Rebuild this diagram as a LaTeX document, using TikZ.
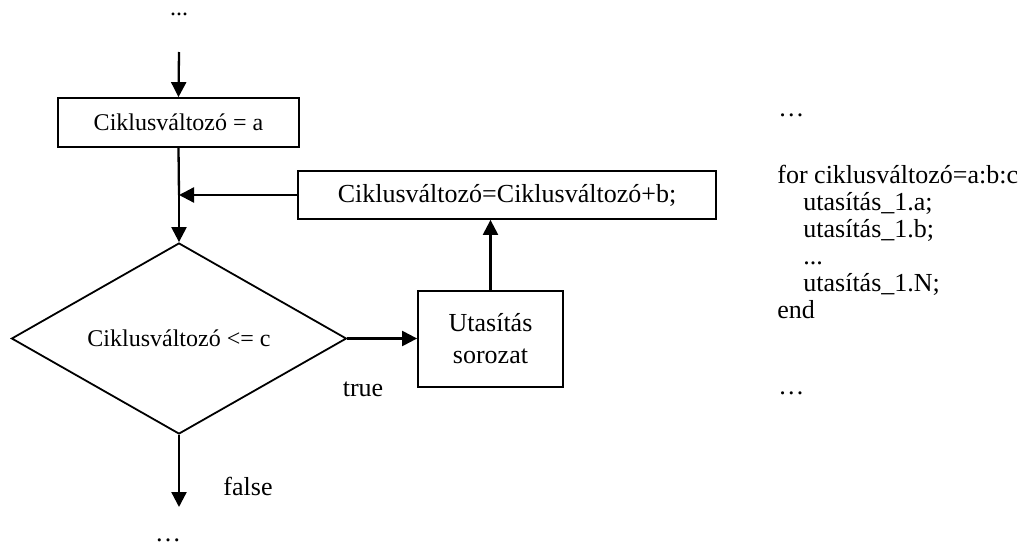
\documentclass[tikz,border=0pt]{standalone}
\usepackage{fontspec}
\setmainfont{Liberation Serif}
\usetikzlibrary{arrows.meta,shapes.geometric}
\begin{document}
\begin{tikzpicture}[x=0.5pt,y=-0.5pt,
  box/.style={draw,line width=0.9pt,inner sep=0pt},
  arr/.style={line width=1.15pt,-{Triangle[length=7.5pt,width=7.5pt]}},
  big/.style={font=\fontsize{13}{15}\selectfont,inner sep=0pt},
  small/.style={font=\fontsize{12}{14}\selectfont,inner sep=0pt},
  code/.style={big,anchor=base west}]
\useasboundingbox (0,0) rectangle (1023,546);
% flowchart
\node[small,anchor=base] (topdots) at (179,16) {...};
\coordinate (start) at (179,52);
\node[box,small,minimum width=120.5pt,minimum height=24.5pt] (init) at (178.5,122.5) {Ciklusváltozó = a};
\node[box,big,minimum width=209pt,minimum height=24pt] (upd) at (507,195) {Ciklusváltozó=Ciklusváltozó+b;};
\coordinate (join) at (179,195);
\node[draw,diamond,line width=0.9pt,inner sep=0pt,aspect=1.754,minimum width=167.5pt,minimum height=95.5pt,small] (cond) at (179,338.5) {Ciklusváltozó <= c};
\node[box,big,align=center,minimum width=72.5pt,minimum height=48pt] (body) at (490.5,339) {Utasítás\\[1pt]sorozat};
\coordinate (end) at (179,507);
\node[big] (truel) at (363,389) {true};
\node[big] (falsel) at (248,486) {false};
\node[big,anchor=base] (botdots) at (168,541) {…};
\draw[arr] (start) -- (init.north);
\draw[line width=1.15pt] (init.south) -- (join);
\draw[arr] (join) -- (cond.north);
\draw[arr] (upd.west) -- (join);
\draw[arr] (cond.east) -- (cond.east -| body.west);
\draw[arr] (body.north) -- (body.north |- upd.south);
\draw[arr] (cond.south) -- (end);
% code
\node[code] (d1) at (778,116) {…};
\node[code] (c1) at (777,183) {for ciklusváltozó=a:b:c};
\node[code] (c2) at (803,210) {utasítás\_1.a;};
\node[code] (c3) at (803,237) {utasítás\_1.b;};
\node[code] (c4) at (803,264) {...};
\node[code] (c5) at (803,291) {utasítás\_1.N;};
\node[code] (c6) at (777,318) {end};
\node[code] (d2) at (778,394) {…};
\end{tikzpicture}
\end{document}
